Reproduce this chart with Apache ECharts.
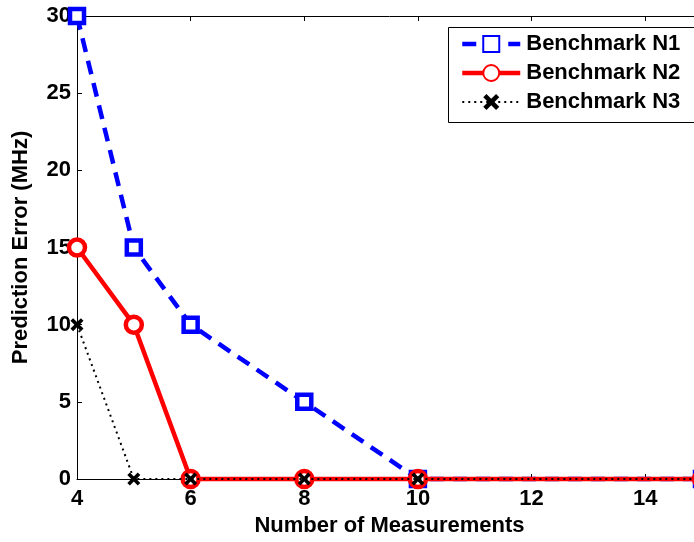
<!DOCTYPE html>
<html>
<head>
<meta charset="utf-8">
<script src="https://cdn.jsdelivr.net/npm/echarts@6/dist/echarts.min.js"></script>
<style>
html,body{margin:0;padding:0;overflow:hidden;background:#fff;width:694px;height:542px;}
#c{width:712px;height:542px;}
</style>
</head>
<body>
<div id="c"></div>
<script>
const measurements = [4, 5, 6, 8, 10, 15];
const benchmarkN1 = [30, 15, 10, 5, 0, 0];
const benchmarkN2 = [15, 10, 0, 0, 0, 0];
const benchmarkN3 = [10, 0, 0, 0, 0, 0];
const seriesNames = ['Benchmark N1', 'Benchmark N2', 'Benchmark N3'];

const pairs = (ys) => measurements.map((x, i) => [x, ys[i]]);
const xPath = 'path://M2,0 L5,3 L8,0 L10,2 L7,5 L10,8 L8,10 L5,7 L2,10 L0,8 L3,5 L0,2 Z';
const font = 'Arial, "Liberation Sans", sans-serif';
const fs = 22;

const chart = echarts.init(document.getElementById('c'), null, {renderer: 'canvas'});
chart.setOption({
  animation: false,
  backgroundColor: '#fff',
  grid: {left: 77, right: 10, top: 16, bottom: 58, containLabel: false},
  graphic: [{
    type: 'rect', z: 5, silent: true,
    shape: {x: 448.5, y: 27.5, width: 300, height: 95},
    style: {fill: '#fff', stroke: '#000', lineWidth: 1}
  }],
  legend: {
    left: 448, top: 27, orient: 'vertical', z: 6,
    borderWidth: 0,
    padding: [6, 10, 8, 12], itemGap: 7, itemWidth: 58, itemHeight: 20,
    textStyle: {fontFamily: font, fontWeight: 'bold', fontSize: fs, color: '#000', padding: [0, 0, 0, 1]},
    data: [
      {name: seriesNames[0], lineStyle: {width: 4.5}},
      {name: seriesNames[1], lineStyle: {width: 4.5}},
      {name: seriesNames[2], lineStyle: {width: 2}}
    ]
  },
  xAxis: [{
    type: 'value', min: 4, max: 15, interval: 2,
    name: 'Number of Measurements', nameLocation: 'middle', nameGap: 36,
    nameTextStyle: {fontFamily: font, fontWeight: 'bold', fontSize: fs, color: '#000'},
    axisLine: {onZero: false, lineStyle: {color: '#000', width: 1}},
    axisTick: {inside: true, length: 5, lineStyle: {color: '#000'}},
    axisLabel: {fontFamily: font, fontWeight: 'bold', fontSize: fs, color: '#000', margin: 9, showMaxLabel: false},
    splitLine: {show: false}
  }, {
    type: 'value', min: 4, max: 15, interval: 2, position: 'top',
    axisLine: {onZero: false, lineStyle: {color: '#000', width: 1}},
    axisTick: {inside: true, length: 5, lineStyle: {color: '#000'}},
    axisLabel: {show: false}, splitLine: {show: false}
  }],
  yAxis: [{
    type: 'value', min: 0, max: 30, interval: 5,
    name: 'Prediction Error (MHz)', nameLocation: 'middle', nameGap: 45,
    nameTextStyle: {fontFamily: font, fontWeight: 'bold', fontSize: fs, color: '#000'},
    axisLine: {onZero: false, lineStyle: {color: '#000', width: 1}},
    axisTick: {inside: true, length: 5, lineStyle: {color: '#000'}},
    axisLabel: {fontFamily: font, fontWeight: 'bold', fontSize: fs, color: '#000', margin: 6},
    splitLine: {show: false}
  }, {
    type: 'value', min: 0, max: 30, interval: 5, position: 'right',
    axisLine: {onZero: false, lineStyle: {color: '#000', width: 1}},
    axisTick: {inside: true, length: 5, lineStyle: {color: '#000'}},
    axisLabel: {show: false}, splitLine: {show: false}
  }],
  series: [{
    name: seriesNames[0], type: 'line', data: pairs(benchmarkN1), clip: false,
    symbol: 'rect', symbolSize: 14, showAllSymbol: true,
    itemStyle: {color: '#fff', borderColor: '#0000ff', borderWidth: 4.5},
    lineStyle: {color: '#0000ff', width: 4.5, type: [14, 9]},
    color: '#0000ff', z: 2
  }, {
    name: seriesNames[1], type: 'line', data: pairs(benchmarkN2), clip: false,
    symbol: 'circle', symbolSize: 16, showAllSymbol: true,
    itemStyle: {color: '#fff', borderColor: '#ff0000', borderWidth: 4.5},
    lineStyle: {color: '#ff0000', width: 4.5, type: 'solid'},
    color: '#ff0000', z: 3
  }, {
    name: seriesNames[2], type: 'line', data: pairs(benchmarkN3), clip: false,
    symbol: xPath, symbolSize: 13, showAllSymbol: true,
    itemStyle: {color: '#000', borderWidth: 0},
    lineStyle: {color: '#000', width: 2, type: [2, 4]},
    color: '#000', z: 4
  }]
});
</script>
</body>
</html>
